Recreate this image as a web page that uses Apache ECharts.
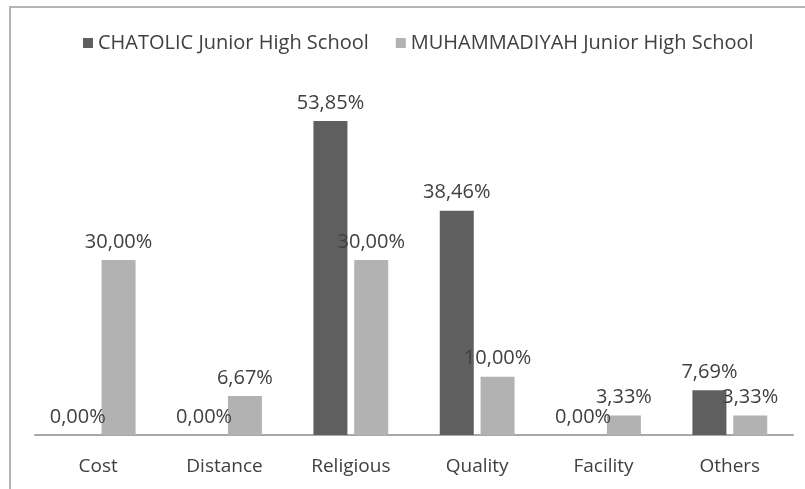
<!DOCTYPE html>
<html>
<head>
<meta charset="utf-8">
<script src="https://cdn.jsdelivr.net/npm/echarts@6/dist/echarts.min.js"></script>
<style>html,body{margin:0;padding:0;background:#fff;}#c{width:805px;height:489px;}</style>
</head>
<body>
<div id="c"></div>
<script>
const categories = ['Cost', 'Distance', 'Religious', 'Quality', 'Facility', 'Others'];
const seriesNames = ['CHATOLIC Junior High School', 'MUHAMMADIYAH Junior High School'];
const chatolic = [0.00, 0.00, 53.85, 38.46, 0.00, 7.69];
const muhammadiyah = [30.00, 6.67, 30.00, 10.00, 3.33, 3.33];

const FONT = 'Open Sans';
const TXT = '#404040';
const fmt = p => p.value.toFixed(2).replace('.', ',') + '%';

const chart = echarts.init(document.getElementById('c'), null, {renderer: 'canvas'});
chart.setOption({
  animation: false,
  backgroundColor: '#ffffff',
  textStyle: {fontFamily: FONT},
  graphic: [{
    type: 'rect',
    shape: {x: 10, y: 7, width: 900, height: 600},
    style: {fill: 'none', stroke: '#b4b4b4', lineWidth: 2},
    silent: true
  }],
  legend: {
    left: 78, top: 28,
    itemWidth: 10, itemHeight: 10, itemGap: 27,
    icon: 'rect',
    textStyle: {fontFamily: FONT, fontSize: 20, color: TXT},
    data: seriesNames
  },
  grid: {left: 35, right: 12, top: 85, bottom: 54, containLabel: false},
  xAxis: {
    type: 'category',
    data: categories,
    axisLine: {lineStyle: {color: '#a8a8a8', width: 2}},
    axisTick: {show: false},
    axisLabel: {fontFamily: FONT, fontSize: 19, color: TXT, margin: 22}
  },
  yAxis: {
    type: 'value', min: 0, max: 60, interval: 10,
    show: false, splitLine: {show: false}
  },
  series: [{
    name: seriesNames[0], type: 'bar', data: chatolic,
    barWidth: 34, barGap: '20%',
    itemStyle: {color: '#5f5f5f'},
    label: {show: true, position: 'top', distance: 8, formatter: fmt,
            fontFamily: FONT, fontSize: 20, color: TXT}
  }, {
    name: seriesNames[1], type: 'bar', data: muhammadiyah,
    barWidth: 34,
    itemStyle: {color: '#b2b2b2'},
    label: {show: true, position: 'top', distance: 8, formatter: fmt,
            fontFamily: FONT, fontSize: 20, color: TXT}
  }]
});
</script>
</body>
</html>
